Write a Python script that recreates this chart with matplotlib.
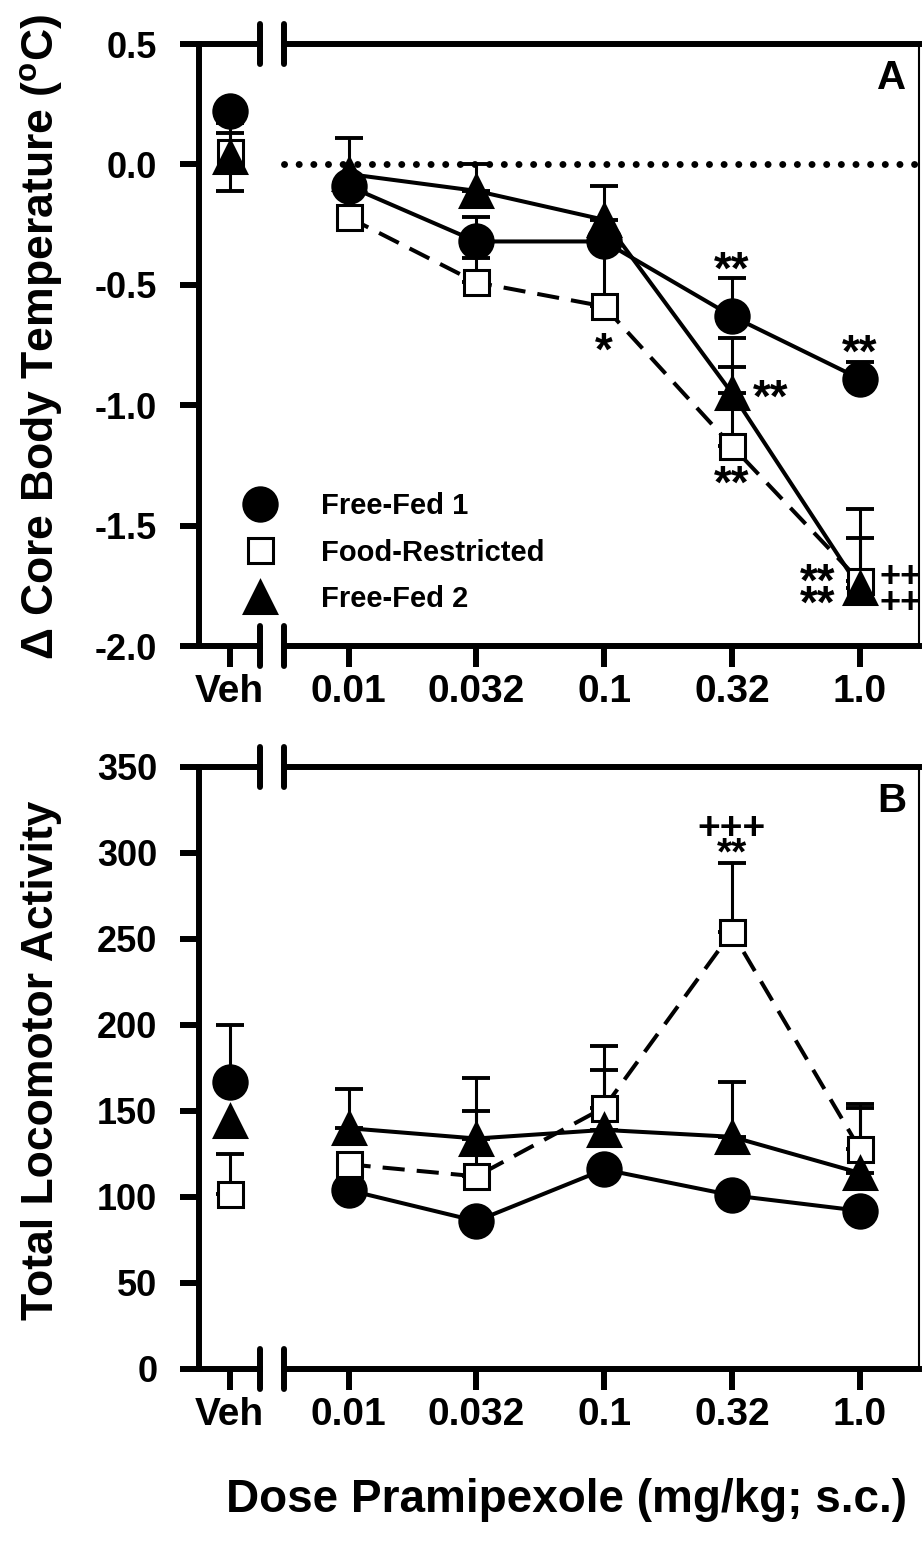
import numpy as np
import matplotlib.pyplot as plt
from matplotlib.lines import Line2D
from matplotlib.transforms import offset_copy

plt.rcParams['font.family'] = ['Liberation Sans', 'DejaVu Sans']
plt.rcParams['font.weight'] = 'bold'
plt.rcParams['axes.unicode_minus'] = False
plt.rcParams['mathtext.fontset'] = 'custom'
plt.rcParams['mathtext.rm'] = 'Liberation Sans'
plt.rcParams['mathtext.bf'] = 'Liberation Sans:bold'
plt.rcParams['mathtext.default'] = 'bf'

nan = np.nan  # SEM hidden behind a marker in the original

# dose groups (Veh + pramipexole mg/kg)
doses = ['Veh', '0.01', '0.032', '0.1', '0.32', '1.0']
groups = ['Free-Fed 1', 'Food-Restricted', 'Free-Fed 2']

# panel A: change in core body temperature (deg C), mean and SEM
temp_ff1 = [0.22, -0.09, -0.32, -0.32, -0.63, -0.89]
temp_ff1_sem = [nan, 0.20, 0.10, nan, 0.16, 0.07]
temp_fr = [0.05, -0.22, -0.49, -0.59, -1.17, -1.73]
temp_fr_sem = [0.08, nan, 0.10, 0.27, 0.33, 0.30]
temp_ff2 = [0.03, -0.04, -0.11, -0.23, -0.95, -1.76]
temp_ff2_sem = [0.14, nan, 0.11, 0.14, 0.23, 0.21]

# panel B: total locomotor activity, mean and SEM
loco_ff1 = [167, 104, 86, 116, 101, 92]
loco_ff1_sem = [33, nan, nan, nan, nan, nan]
loco_fr = [102, 119, 112, 152, 254, 128]
loco_fr_sem = [23, nan, 38, 36, 40, 26]
loco_ff2 = [144, 140, 134, 139, 135, 114]
loco_ff2_sem = [nan, 23, 35, 35, 32, 38]

# significance marks: (x, value of bottom row, text, fontsize, linespacing)
marks_A = [(3.0, -0.75, '*', 33, 1.0), (4.0, -0.41, '**', 33, 1.0),
           (4.30, -0.945, '**', 33, 1.0), (4.0, -1.30, '**', 33, 1.0),
           (5.0, -0.755, '**', 33, 1.0),
           (4.67, -1.80, '**\n**', 33, 0.37),
           (5.32, -1.81, '++\n++', 26, 0.66)]
marks_B = [(4.0, 303.5, '+++\n**', 28, 0.62)]

xpos = np.array([0.07, 1, 2, 3, 4, 5])
brk = [(260 - 199) / 720, (284 - 199) / 720]

fig = plt.figure(figsize=(9.22, 15.43), dpi=100)
axA = fig.add_axes([199 / 922, 1 - 646 / 1543, 720 / 922, 602 / 1543])
axB = fig.add_axes([199 / 922, 1 - 1369 / 1543, 720 / 922, 602 / 1543])


def draw_panel(ax, series, veh_both):
    styles = [('o', 24, 'k', '-', 5), ('s', 18, 'white', (0, (5.5, 3)), 5), ('^', 23, 'k', '-', 6)]
    for (m, e), (mk, ms, fc, ls, z) in zip(series, styles):
        m = np.array(m, dtype=float)
        e = np.array(e, dtype=float)
        ok = ~np.isnan(e)
        lower = np.zeros(len(m))
        if veh_both:
            lower[0] = e[0]
        ax.errorbar(xpos[ok], m[ok], yerr=[lower[ok], e[ok]], fmt='none', ecolor='k',
                    elinewidth=2.2, capsize=10, capthick=2.8, zorder=3)
        ax.plot(xpos[1:], m[1:], color='k', lw=2.9, ls=ls, zorder=2)
        ax.plot(xpos, m, ls='none', marker=mk, ms=ms, mfc=fc, mec='k',
                mew=2.2, zorder=z)

    ax.set_xlim(-0.17, 5.464)
    ax.set_xticks(xpos)
    ax.set_xticklabels(doses)
    for s in ['top', 'bottom']:
        ax.spines[s].set_visible(False)
    ax.spines['left'].set_linewidth(4.3)
    ax.spines['right'].set_linewidth(1.5)
    ax.tick_params(axis='y', length=14, width=4.3, pad=16, labelsize=26)
    ax.tick_params(axis='x', length=15, width=4.3, pad=5, labelsize=28)

    # broken top and bottom spines
    for yy in (0, 1):
        ax.plot([0, brk[0]], [yy, yy], transform=ax.transAxes, color='k', lw=4.3,
                clip_on=False, solid_capstyle='projecting')
        ax.plot([brk[1], 1], [yy, yy], transform=ax.transAxes, color='k', lw=4.3,
                clip_on=False, solid_capstyle='projecting')
        for b in brk:
            ax.plot([b, b], [yy - 0.033, yy + 0.033], transform=ax.transAxes,
                    color='k', lw=4.3, clip_on=False, solid_capstyle='round')


def add_marks(ax, marks):
    for x, y, t, fs, lsp in marks:
        # shift so the glyphs of the bottom row (not its baseline) sit at the value
        last = t.split('\n')[-1]
        shift = 0.44 if last[0] == '*' else 0.345
        tr = offset_copy(ax.transData, fig=fig, y=-shift * fs, units='points')
        ax.text(x, y, t, transform=tr, ha='center', va='baseline',
                fontsize=fs, linespacing=lsp, multialignment='center')


draw_panel(axA, [(temp_ff1, temp_ff1_sem), (temp_fr, temp_fr_sem), (temp_ff2, temp_ff2_sem)], True)
axA.set_ylim(-2.0, 0.5)
axA.set_yticks(np.arange(-2.0, 0.51, 0.5))
axA.set_yticklabels(['%.1f' % v for v in np.arange(-2.0, 0.51, 0.5)])
axA.axhline(0, xmin=brk[1], xmax=1, color='k', lw=5, ls=(0, (0.01, 2.1)),
            dash_capstyle='round', zorder=1)

draw_panel(axB, [(loco_ff1, loco_ff1_sem), (loco_fr, loco_fr_sem), (loco_ff2, loco_ff2_sem)], False)
axB.set_ylim(0, 350)
axB.set_yticks(np.arange(0, 351, 50))

add_marks(axA, marks_A)
add_marks(axB, marks_B)

axA.text(0.9625, 0.9435, 'A', transform=axA.transAxes, ha='center', va='center', fontsize=29)
axB.text(0.9625, 0.9435, 'B', transform=axB.transAxes, ha='center', va='center', fontsize=29)

handles = [Line2D([], [], ls='none', marker='o', ms=24, mfc='k', mec='k', mew=2.2),
           Line2D([], [], ls='none', marker='s', ms=18, mfc='white', mec='k', mew=2.2),
           Line2D([], [], ls='none', marker='^', ms=23, mfc='k', mec='k', mew=2.2)]
axA.legend(handles, groups, loc='upper left', bbox_to_anchor=(0.0604, 0.2558),
           frameon=False, borderpad=0, borderaxespad=0, handlelength=1.2,
           handletextpad=1.5, labelspacing=0.64, fontsize=21)

fig.text(42 / 922, 1 - 337 / 1543, 'Δ Core Body Temperature ($^{o}$C)', rotation=90,
         ha='center', va='center', fontsize=32)
fig.text(42 / 922, 1 - 1060 / 1543, 'Total Locomotor Activity', rotation=90,
         ha='center', va='center', fontsize=32)
fig.text(566 / 922, 1 - 1500 / 1543, 'Dose Pramipexole (mg/kg; s.c.)',
         ha='center', va='center', fontsize=33)

fig.savefig('out.png', dpi=100)
